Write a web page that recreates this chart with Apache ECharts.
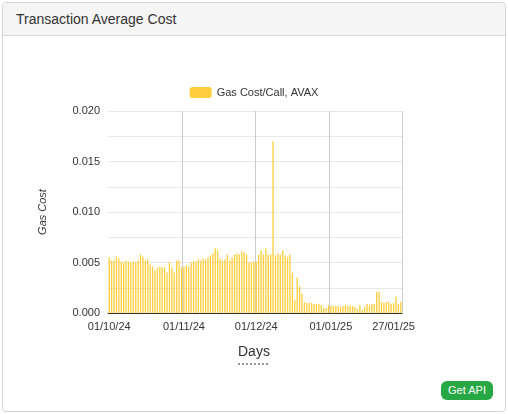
<!DOCTYPE html>
<html><head><meta charset="utf-8">
<script src="https://cdn.jsdelivr.net/npm/echarts@6/dist/echarts.min.js"></script>
<style>
body{margin:0;width:508px;height:414px;background:#fff;font-family:"Liberation Sans",Arial,sans-serif;overflow:hidden}
#card{position:absolute;left:2px;top:2px;width:502px;height:408px;border:1px solid #d5d5d5;border-radius:4px;background:#fff}
#hdr{position:absolute;left:0;top:0;right:0;height:32px;background:#f5f5f5;border-bottom:1px solid #d5d5d5;border-radius:4px 4px 0 0;font-size:14px;line-height:32px;padding-left:13px;color:#333}
#btn{position:absolute;left:441px;top:381px;width:52px;height:19px;background:#28a745;color:#fff;border-radius:6px;font-size:11px;text-align:center;line-height:19px}
#c{position:absolute;left:0;top:0;width:508px;height:414px}
</style></head><body>
<div id="card"><div id="hdr">Transaction Average Cost</div></div>
<div id="c"></div>
<div id="btn">Get API</div>
<script>
const oct=[0.0055,0.0052,0.0052,0.0056,0.0054,0.0051,0.005,0.0052,0.0051,0.005,0.0051,0.005,0.0052,0.0058,0.0056,0.0052,0.0053,0.0048,0.0046,0.0042,0.0045,0.0046,0.0045,0.0045,0.004,0.005,0.0045,0.004,0.0052,0.0052,0.0045];
const nov=[0.0046,0.0047,0.0046,0.005,0.0051,0.0051,0.0053,0.0052,0.0054,0.0053,0.0055,0.0057,0.0059,0.0064,0.0062,0.0054,0.0052,0.0053,0.0058,0.0052,0.0055,0.0058,0.0059,0.0058,0.0061,0.006,0.0058,0.005,0.005,0.0051];
const dec=[0.0051,0.0058,0.0062,0.0058,0.0064,0.0058,0.0058,0.017,0.0057,0.0059,0.0058,0.0062,0.0057,0.0055,0.0058,0.004,0.0013,0.0035,0.0026,0.0019,0.0011,0.001,0.001,0.001,0.0009,0.0009,0.0009,0.0008,0.0005,0.0005,0.0008];
const jan=[0.0007,0.0007,0.0007,0.0007,0.0006,0.0007,0.0008,0.0007,0.0007,0.0007,0.0006,0.0004,0.0008,0.0003,0.0006,0.0009,0.0008,0.0009,0.0009,0.0021,0.0021,0.0011,0.001,0.0011,0.0011,0.0009,0.001,0.0016,0.0009,0.0011];
const values=[...oct,...nov,...dec,...jan];
const pad=n=>String(n).padStart(2,'0');
const months=[[10,24,oct.length],[11,24,nov.length],[12,24,dec.length],[1,25,jan.length]];
const days=[];
months.forEach(([m,y,n])=>{for(let d=1;d<=n;d++)days.push(pad(d)+'/'+pad(m)+'/'+y);});
const tickLabels=['01/10/24','01/11/24','01/12/24','01/01/25','27/01/25'];
const gridLines=['01/11/24','01/12/24','01/01/25'];
const ch=echarts.init(document.getElementById('c'));
ch.setOption({
 animation:false,
 legend:{top:82,left:'center',itemWidth:22,itemHeight:11,textStyle:{fontSize:11,color:'#333'},data:['Gas Cost/Call, AVAX']},
 grid:{left:108,right:106,top:111,bottom:101},
 xAxis:{type:'category',data:days,boundaryGap:true,
  axisLine:{lineStyle:{color:'#333'}},axisTick:{show:false},
  axisLabel:{interval:(i,v)=>tickLabels.includes(v),color:'#333',fontSize:11,margin:8},
  splitLine:{show:true,interval:(i,v)=>gridLines.includes(v),lineStyle:{color:'#ccc'}}},
 yAxis:{type:'value',min:0,max:0.02,interval:0.0025,name:'Gas Cost',nameLocation:'middle',nameGap:60,nameTextStyle:{fontStyle:'italic',fontSize:11,color:'#333'},
  axisLabel:{color:'#333',fontSize:11,formatter:v=>Math.round(v*10000)%50===0?v.toFixed(3):''},
  splitLine:{lineStyle:{color:'#e8e8e8'}}},
 series:[{name:'Gas Cost/Call, AVAX',type:'bar',data:values,itemStyle:{color:'#ffc61a',opacity:0.85},barCategoryGap:'45%'}],
 graphic:[
  {type:'text',left:238,top:345,style:{text:'Days',fontSize:14,fill:'#333'}},
  {type:'line',shape:{x1:238,y1:364,x2:269,y2:364},style:{stroke:'#333',lineDash:[2,2],lineWidth:1}}
 ]
});
</script></body></html>
